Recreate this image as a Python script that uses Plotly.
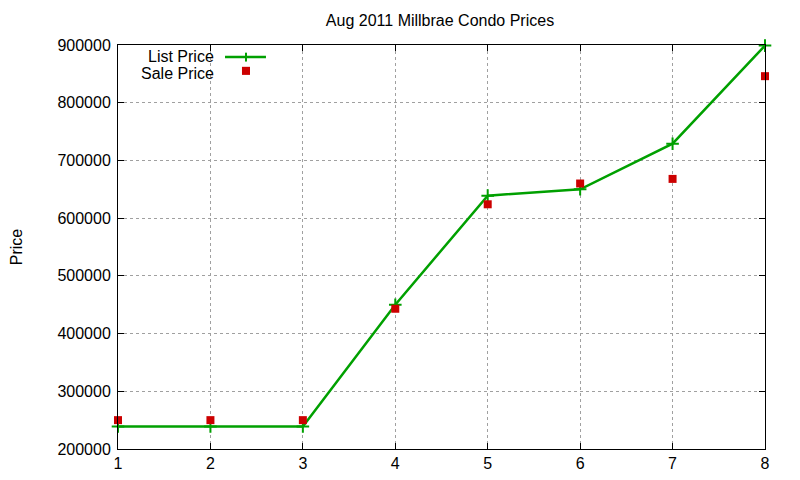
import plotly.graph_objects as go

# data
units = [1, 2, 3, 4, 5, 6, 7, 8]
list_price = [239000, 239000, 239000, 450000, 639000, 650000, 729000, 899000]
sale_price = [250000, 250000, 250000, 443000, 624000, 660000, 668000, 846000]
y_ticks = [200000, 300000, 400000, 500000, 600000, 700000, 800000, 900000]

green = "#00a000"
red = "#cc0000"
font = "Liberation Sans, Arial, sans-serif"

fig = go.Figure()

fig.add_trace(go.Scatter(
    x=units, y=list_price, name="List Price",
    mode="lines+markers",
    line=dict(color=green, width=2.5),
    marker=dict(symbol="cross-thin", size=9, line=dict(color=green, width=2)),
    cliponaxis=False,
))
fig.add_trace(go.Scatter(
    x=units, y=sale_price, name="Sale Price",
    mode="markers",
    marker=dict(symbol="square", size=8, color=red),
    cliponaxis=False,
))

# gnuplot style legend: text right aligned, sample to the right
fig.add_annotation(xref="paper", yref="paper", x=0.1515, y=0.972,
                   text="List Price", showarrow=False, xanchor="right",
                   yanchor="middle",
                   font=dict(size=16, color="black", family=font))
fig.add_annotation(xref="paper", yref="paper", x=0.1515, y=0.929,
                   text="Sale Price", showarrow=False, xanchor="right",
                   yanchor="middle",
                   font=dict(size=16, color="black", family=font))
fig.add_shape(type="line", xref="paper", yref="paper", x0=0.1654, x1=0.2287,
              y0=0.970, y1=0.970, line=dict(color=green, width=2.5))
fig.add_shape(type="line", xref="paper", yref="paper", x0=0.1978, x1=0.1978,
              y0=0.959, y1=0.981, line=dict(color=green, width=2))
fig.add_shape(type="rect", xref="paper", yref="paper", x0=0.1916, x1=0.2040,
              y0=0.926, y1=0.946, fillcolor=red, line=dict(width=0))

axis_common = dict(
    showline=True, linecolor="black", linewidth=1, mirror="ticks",
    ticks="inside", ticklen=6, tickcolor="black",
    showgrid=True, gridcolor="#a0a0a0", griddash="dot", gridwidth=1,
    zeroline=False, automargin=False,
    tickfont=dict(size=16, color="black", family=font),
)

fig.update_layout(
    width=800, height=480,
    title=dict(text="Aug 2011 Millbrae Condo Prices", x=0.54, y=0.975,
               xanchor="center", yanchor="middle",
               font=dict(size=16, color="black", family=font)),
    showlegend=False,
    plot_bgcolor="white", paper_bgcolor="white",
    margin=dict(l=110, r=43, t=37, b=39),
    xaxis=dict(range=[1, 8], dtick=1, **axis_common),
    yaxis=dict(range=[200000, 900000], tickvals=y_ticks, tickformat="d",
               ticklabelstandoff=3,
               title=dict(text="Price", standoff=38,
                          font=dict(size=16, color="black", family=font)),
               **axis_common),
)

fig.write_html("out.html")
